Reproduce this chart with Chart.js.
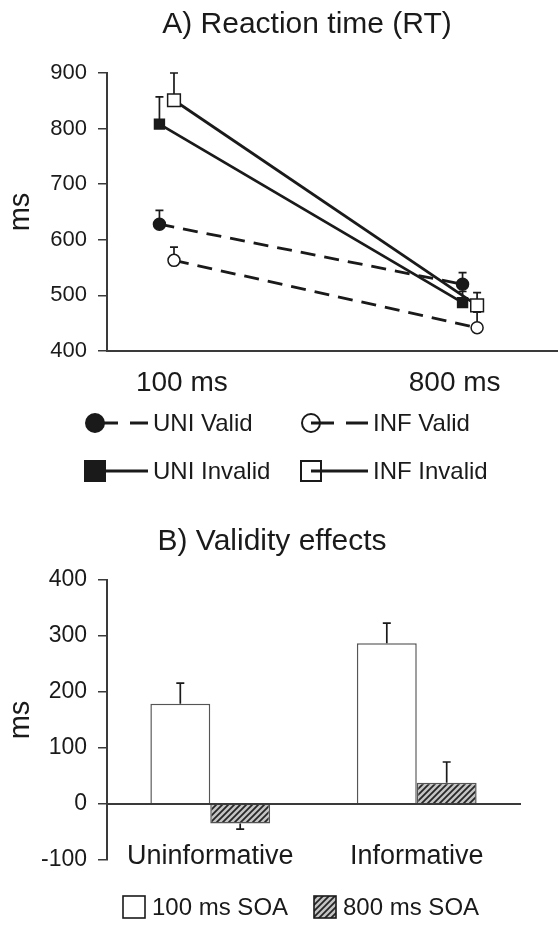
<!DOCTYPE html>
<html>
<head>
<meta charset="utf-8">
<script src="https://cdn.jsdelivr.net/npm/chart.js@4.4.1/dist/chart.umd.min.js"></script>
<style>
  html, body { margin: 0; padding: 0; background: #fff; overflow: hidden; }
  #wrap { position: relative; width: 558px; height: 930px; overflow: hidden; }
  #rtChart { position: absolute; left: 0; top: 0; }
  #veChart { position: absolute; left: 0; top: 505px; }
</style>
</head>
<body>
<div id="wrap">
  <!-- panel A runs past the right edge, like the cropped original -->
  <canvas id="rtChart" width="614" height="505"></canvas>
  <canvas id="veChart" width="544" height="425"></canvas>
</div>
<script>
// A) reaction time, ms (upper error bars only)
const soaLabels = ['100 ms', '800 ms'];
const rtSeries = ['UNI Valid', 'INF Valid', 'UNI Invalid', 'INF Invalid'];
const uniValid = [628, 520];
const infValid = [563, 442];
const uniInvalid = [808, 487];
const infInvalid = [851, 482];
const uniValidErr = [25, 21];
const infValidErr = [24, 28];
const uniInvalidErr = [49, 20];
const infInvalidErr = [49, 23];
const rtTicks = [400, 500, 600, 700, 800, 900];

// B) validity effects, ms
const cueLabels = ['Uninformative', 'Informative'];
const effectSeries = ['100 ms SOA', '800 ms SOA'];
const effect100 = [179, 287];
const effect800 = [-35, 38];
const effect100Err = [37, 36];
const effect800Err = [10, 37];
const effectTicks = [-100, 0, 100, 200, 300, 400];

const FONT = '"Liberation Sans", Arial, Helvetica, sans-serif';
const INK = '#1a1a1a';
const AXIS = '#3a3a3a';
Chart.defaults.font.family = FONT;
Chart.defaults.color = INK;

// points of the same SOA are nudged apart a little, like the original
const uniShift = -0.024;
const infShift = 0.024;
const soaTickPos = [0.05, 0.95];

const toPoints = (values, shift) => values.map((v, i) => ({ x: i + shift, y: v }));

const makeHatch = () => {
  const c = document.createElement('canvas');
  c.width = 6; c.height = 6;
  const g = c.getContext('2d');
  g.fillStyle = '#c4c4c4';
  g.fillRect(0, 0, 6, 6);
  g.strokeStyle = '#262626';
  g.lineWidth = 1.8;
  g.beginPath();
  g.moveTo(0, 6); g.lineTo(6, 0);
  g.moveTo(-1, 1); g.lineTo(1, -1);
  g.moveTo(5, 7); g.lineTo(7, 5);
  g.stroke();
  return g.createPattern(c, 'repeat');
};

const drawErrorBars = (chart, capHalf) => {
  const { ctx, scales: { y } } = chart;
  ctx.save();
  ctx.strokeStyle = INK;
  ctx.lineWidth = 1.7;
  chart.data.datasets.forEach((ds, i) => {
    const meta = chart.getDatasetMeta(i);
    meta.data.forEach((el, j) => {
      const raw = ds.data[j];
      const v = typeof raw === 'object' ? raw.y : raw;
      const dir = v < 0 ? -1 : 1;
      const y0 = y.getPixelForValue(v);
      const y1 = y.getPixelForValue(v + dir * ds.errors[j]);
      ctx.beginPath();
      ctx.moveTo(el.x, y0);
      ctx.lineTo(el.x, y1);
      ctx.moveTo(el.x - capHalf, y1);
      ctx.lineTo(el.x + capHalf, y1);
      ctx.stroke();
    });
  });
  ctx.restore();
};

// legend of panel A: marker + line style + label, two columns
const rtLegend = {
  id: 'rtLegend',
  afterDraw(chart) {
    const ctx = chart.ctx;
    const cols = [{ mark: 95, text: 153 }, { mark: 311, text: 373 }];
    const rows = [423, 471];
    ctx.save();
    chart.data.datasets.forEach((ds, i) => {
      const c = cols[i % 2];
      const y = rows[Math.floor(i / 2)];
      const end = c.text - 5;

      ctx.strokeStyle = INK;
      ctx.fillStyle = ds.pointBackgroundColor;
      ctx.lineWidth = 2;
      ctx.beginPath();
      if (ds.pointStyle === 'circle') ctx.arc(c.mark, y, 9, 0, Math.PI * 2);
      else ctx.rect(c.mark - 10, y - 10, 20, 20);
      ctx.fill();
      ctx.stroke();

      ctx.lineWidth = 2.8;
      ctx.beginPath();
      if (ds.borderDash.length) {
        ctx.moveTo(c.mark, y); ctx.lineTo(c.mark + 23, y);
        ctx.moveTo(c.mark + 35, y); ctx.lineTo(end, y);
      } else {
        ctx.moveTo(c.mark, y); ctx.lineTo(end, y);
      }
      ctx.stroke();

      ctx.fillStyle = INK;
      ctx.font = '24px ' + FONT;
      ctx.textBaseline = 'middle';
      ctx.textAlign = 'left';
      ctx.fillText(ds.label, c.text, y + 1);
    });
    ctx.restore();
  }
};

const veLegend = {
  id: 'veLegend',
  afterDraw(chart) {
    const ctx = chart.ctx;
    const items = [{ box: 123, text: 152 }, { box: 314, text: 343 }];
    const y = 402;
    ctx.save();
    chart.data.datasets.forEach((ds, i) => {
      const it = items[i];
      ctx.fillStyle = ds.backgroundColor;
      ctx.strokeStyle = INK;
      ctx.lineWidth = 1.6;
      ctx.fillRect(it.box, y - 11, 22, 22);
      ctx.strokeRect(it.box, y - 11, 22, 22);
      ctx.fillStyle = INK;
      ctx.font = '24px ' + FONT;
      ctx.textBaseline = 'middle';
      ctx.fillText(ds.label, it.text, y + 1);
    });
    ctx.restore();
  }
};

const lineBase = {
  borderColor: INK,
  borderWidth: 2.8,
  pointBorderColor: INK,
  pointBorderWidth: 1.5,
  fill: false,
  tension: 0
};

const rtDatasets = [
  { ...lineBase, label: rtSeries[0], data: toPoints(uniValid, uniShift), errors: uniValidErr,
    borderDash: [15, 9], pointStyle: 'circle', pointRadius: 6, pointBackgroundColor: INK },
  { ...lineBase, label: rtSeries[1], data: toPoints(infValid, infShift), errors: infValidErr,
    borderDash: [15, 9], pointStyle: 'circle', pointRadius: 6, pointBackgroundColor: '#fff' },
  { ...lineBase, label: rtSeries[2], data: toPoints(uniInvalid, uniShift), errors: uniInvalidErr,
    borderDash: [], pointStyle: 'rect', pointRadius: 7, pointBackgroundColor: INK },
  { ...lineBase, label: rtSeries[3], data: toPoints(infInvalid, infShift), errors: infInvalidErr,
    borderDash: [], pointStyle: 'rect', pointRadius: 9, pointBackgroundColor: '#fff' }
];

new Chart(document.getElementById('rtChart'), {
  type: 'line',
  data: { datasets: rtDatasets },
  options: {
    responsive: false,
    animation: false,
    layout: { padding: { left: 0, right: 0, top: 0, bottom: 104 } },
    plugins: {
      legend: { display: false },
      tooltip: { enabled: false },
      title: {
        display: true, text: 'A) Reaction time (RT)', color: INK,
        font: { size: 30, weight: 'normal' }, padding: { top: 7, bottom: 30 }
      }
    },
    scales: {
      x: {
        type: 'linear', min: -0.197, max: 1.441,
        afterBuildTicks: (s) => { s.ticks = soaTickPos.map(v => ({ value: v })); },
        afterFit: (s) => { s.height = 50; s.paddingLeft = 0; s.paddingRight = 0; },
        grid: { display: false },
        border: { color: AXIS, width: 2 },
        ticks: {
          autoSkip: false, maxRotation: 0, padding: 7, color: INK, font: { size: 28 },
          callback: (v, i) => soaLabels[i]
        }
      },
      y: {
        min: rtTicks[0], max: rtTicks[rtTicks.length - 1],
        afterFit: (s) => { s.width = 107; },
        ticks: { stepSize: 100, padding: 11, color: INK, font: { size: 22 } },
        grid: { drawOnChartArea: false, tickLength: 9, color: AXIS, lineWidth: 1.5 },
        border: { color: AXIS, width: 2 },
        title: { display: true, text: 'ms', color: INK, font: { size: 29 }, padding: { top: 4 } }
      }
    }
  },
  plugins: [
    { id: 'rtErrors', beforeDatasetsDraw: (chart) => drawErrorBars(chart, 4) },
    rtLegend
  ]
});

new Chart(document.getElementById('veChart'), {
  type: 'bar',
  data: {
    labels: cueLabels,
    datasets: [
      { label: effectSeries[0], data: effect100, errors: effect100Err,
        backgroundColor: '#fff', borderColor: '#555', borderWidth: 1.5 },
      { label: effectSeries[1], data: effect800, errors: effect800Err,
        backgroundColor: makeHatch(), borderColor: '#555', borderWidth: 1.5 }
    ]
  },
  options: {
    responsive: false,
    animation: false,
    categoryPercentage: 0.58,
    barPercentage: 1,
    // left padding keeps the title centred where the original has it
    layout: { padding: { left: 24, right: 24, top: 0, bottom: 70 } },
    plugins: {
      legend: { display: false },
      tooltip: { enabled: false },
      title: {
        display: true, text: 'B) Validity effects', color: INK,
        font: { size: 30, weight: 'normal' }, padding: { top: 19, bottom: 20 }
      }
    },
    scales: {
      x: {
        position: { y: 0 },
        afterFit: (s) => { s.height = 0; s.paddingLeft = 0; s.paddingRight = 0; },
        grid: { display: false },
        border: { color: AXIS, width: 2, z: 1 },
        ticks: { maxRotation: 0, padding: 28, color: INK, font: { size: 27 } }
      },
      y: {
        min: effectTicks[0], max: effectTicks[effectTicks.length - 1],
        afterFit: (s) => { s.width = 83; },
        ticks: { stepSize: 100, padding: 11, color: INK, font: { size: 23 } },
        grid: { drawOnChartArea: false, tickLength: 9, color: AXIS, lineWidth: 1.5 },
        border: { color: AXIS, width: 2 },
        title: { display: true, text: 'ms', color: INK, font: { size: 29 }, padding: { top: -20 } }
      }
    }
  },
  plugins: [
    { id: 'veErrors', afterDatasetsDraw: (chart) => drawErrorBars(chart, 4) },
    veLegend
  ]
});
</script>
</body>
</html>
